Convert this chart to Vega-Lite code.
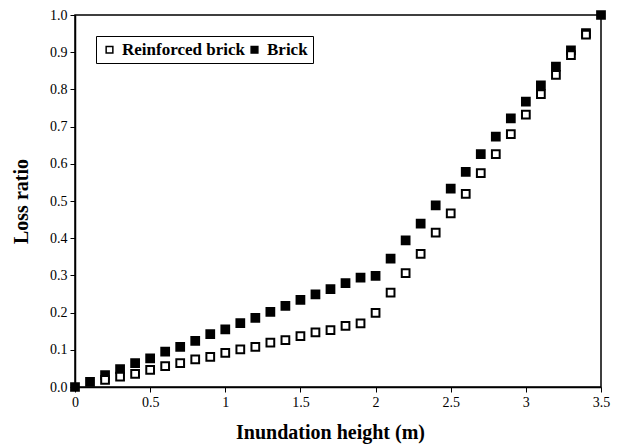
{
  "$schema": "https://vega.github.io/schema/vega-lite/v6.json",
  "autosize": "none",
  "width": 526,
  "height": 372,
  "padding": {"left": 75, "top": 15, "right": 17, "bottom": 60},
  "background": "white",
  "config": {
    "view": {"stroke": "black", "strokeWidth": 1.5},
    "font": "Liberation Serif"
  },
  "data": {
    "values": [
      {"h": 0.0, "loss": 0.0, "type": "Brick"},
      {"h": 0.1, "loss": 0.014, "type": "Brick"},
      {"h": 0.2, "loss": 0.032, "type": "Brick"},
      {"h": 0.3, "loss": 0.048, "type": "Brick"},
      {"h": 0.4, "loss": 0.064, "type": "Brick"},
      {"h": 0.5, "loss": 0.077, "type": "Brick"},
      {"h": 0.6, "loss": 0.095, "type": "Brick"},
      {"h": 0.7, "loss": 0.108, "type": "Brick"},
      {"h": 0.8, "loss": 0.124, "type": "Brick"},
      {"h": 0.9, "loss": 0.142, "type": "Brick"},
      {"h": 1.0, "loss": 0.155, "type": "Brick"},
      {"h": 1.1, "loss": 0.172, "type": "Brick"},
      {"h": 1.2, "loss": 0.186, "type": "Brick"},
      {"h": 1.3, "loss": 0.202, "type": "Brick"},
      {"h": 1.4, "loss": 0.218, "type": "Brick"},
      {"h": 1.5, "loss": 0.234, "type": "Brick"},
      {"h": 1.6, "loss": 0.249, "type": "Brick"},
      {"h": 1.7, "loss": 0.263, "type": "Brick"},
      {"h": 1.8, "loss": 0.279, "type": "Brick"},
      {"h": 1.9, "loss": 0.294, "type": "Brick"},
      {"h": 2.0, "loss": 0.299, "type": "Brick"},
      {"h": 2.1, "loss": 0.345, "type": "Brick"},
      {"h": 2.2, "loss": 0.394, "type": "Brick"},
      {"h": 2.3, "loss": 0.439, "type": "Brick"},
      {"h": 2.4, "loss": 0.488, "type": "Brick"},
      {"h": 2.5, "loss": 0.533, "type": "Brick"},
      {"h": 2.6, "loss": 0.578, "type": "Brick"},
      {"h": 2.7, "loss": 0.626, "type": "Brick"},
      {"h": 2.8, "loss": 0.673, "type": "Brick"},
      {"h": 2.9, "loss": 0.722, "type": "Brick"},
      {"h": 3.0, "loss": 0.767, "type": "Brick"},
      {"h": 3.1, "loss": 0.811, "type": "Brick"},
      {"h": 3.2, "loss": 0.861, "type": "Brick"},
      {"h": 3.3, "loss": 0.905, "type": "Brick"},
      {"h": 3.4, "loss": 0.951, "type": "Brick"},
      {"h": 3.5, "loss": 1.0, "type": "Brick"},
      {"h": 0.2, "loss": 0.019, "type": "Reinforced brick"},
      {"h": 0.3, "loss": 0.028, "type": "Reinforced brick"},
      {"h": 0.4, "loss": 0.035, "type": "Reinforced brick"},
      {"h": 0.5, "loss": 0.046, "type": "Reinforced brick"},
      {"h": 0.6, "loss": 0.056, "type": "Reinforced brick"},
      {"h": 0.7, "loss": 0.064, "type": "Reinforced brick"},
      {"h": 0.8, "loss": 0.074, "type": "Reinforced brick"},
      {"h": 0.9, "loss": 0.081, "type": "Reinforced brick"},
      {"h": 1.0, "loss": 0.092, "type": "Reinforced brick"},
      {"h": 1.1, "loss": 0.101, "type": "Reinforced brick"},
      {"h": 1.2, "loss": 0.108, "type": "Reinforced brick"},
      {"h": 1.3, "loss": 0.119, "type": "Reinforced brick"},
      {"h": 1.4, "loss": 0.126, "type": "Reinforced brick"},
      {"h": 1.5, "loss": 0.137, "type": "Reinforced brick"},
      {"h": 1.6, "loss": 0.147, "type": "Reinforced brick"},
      {"h": 1.7, "loss": 0.153, "type": "Reinforced brick"},
      {"h": 1.8, "loss": 0.164, "type": "Reinforced brick"},
      {"h": 1.9, "loss": 0.171, "type": "Reinforced brick"},
      {"h": 2.0, "loss": 0.199, "type": "Reinforced brick"},
      {"h": 2.1, "loss": 0.254, "type": "Reinforced brick"},
      {"h": 2.2, "loss": 0.306, "type": "Reinforced brick"},
      {"h": 2.3, "loss": 0.358, "type": "Reinforced brick"},
      {"h": 2.4, "loss": 0.415, "type": "Reinforced brick"},
      {"h": 2.5, "loss": 0.467, "type": "Reinforced brick"},
      {"h": 2.6, "loss": 0.519, "type": "Reinforced brick"},
      {"h": 2.7, "loss": 0.575, "type": "Reinforced brick"},
      {"h": 2.8, "loss": 0.626, "type": "Reinforced brick"},
      {"h": 2.9, "loss": 0.680, "type": "Reinforced brick"},
      {"h": 3.0, "loss": 0.732, "type": "Reinforced brick"},
      {"h": 3.1, "loss": 0.787, "type": "Reinforced brick"},
      {"h": 3.2, "loss": 0.839, "type": "Reinforced brick"},
      {"h": 3.3, "loss": 0.892, "type": "Reinforced brick"},
      {"h": 3.4, "loss": 0.947, "type": "Reinforced brick"}
    ]
  },
  "mark": {"type": "point", "shape": "square", "size": 60, "filled": true, "opacity": 1, "stroke": "black", "strokeWidth": 2, "clip": false},
  "encoding": {
    "x": {
      "field": "h", "type": "quantitative",
      "scale": {"domain": [0, 3.5], "nice": false, "zero": true},
      "axis": {
        "values": [0, 0.5, 1, 1.5, 2, 2.5, 3, 3.5],
        "format": "~g",
        "title": "Inundation height (m)",
        "titleX": 255,
        "titleAlign": "center",
        "titleFont": "Liberation Serif", "titleFontSize": 20, "titleFontWeight": "bold", "titleColor": "black", "titlePadding": 13,
        "labelFont": "Liberation Serif", "labelFontSize": 14, "labelColor": "black", "labelPadding": 3,
        "grid": false, "domainColor": "black", "domainWidth": 1.5, "tickColor": "black", "tickSize": 5, "labelFlush": false
      }
    },
    "y": {
      "field": "loss", "type": "quantitative",
      "scale": {"domain": [0, 1], "nice": false},
      "axis": {
        "values": [0, 0.1, 0.2, 0.3, 0.4, 0.5, 0.6, 0.7, 0.8, 0.9, 1.0],
        "format": ".1f",
        "title": "Loss ratio",
        "titleFont": "Liberation Serif", "titleFontSize": 20, "titleFontWeight": "bold", "titleColor": "black", "titlePadding": 18,
        "labelFont": "Liberation Serif", "labelFontSize": 14, "labelColor": "black", "labelPadding": 3,
        "grid": false, "domainColor": "black", "domainWidth": 1.5, "tickColor": "black", "tickSize": 5, "labelFlush": false
      }
    },
    "fill": {
      "field": "type", "type": "nominal",
      "scale": {"domain": ["Reinforced brick", "Brick"], "range": ["white", "black"]},
      "legend": {
        "title": null,
        "orient": "none",
        "legendX": 21,
        "legendY": 21,
        "direction": "horizontal",
        "columns": 2,
        "columnPadding": 1,
        "symbolType": "square",
        "symbolSize": 45,
        "symbolStrokeColor": "black",
        "symbolStrokeWidth": 1.5,
        "symbolOpacity": 1,
        "labelFont": "Liberation Serif",
        "labelFontSize": 17,
        "labelFontWeight": "bold",
        "labelColor": "black",
        "labelOffset": 4,
        "strokeColor": "black",
        "fillColor": "white",
        "padding": 5
      }
    }
  }
}
